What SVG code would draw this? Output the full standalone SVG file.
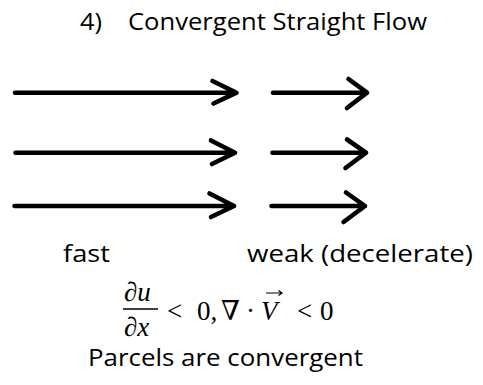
<svg xmlns="http://www.w3.org/2000/svg" width="483" height="385" viewBox="0 0 483 385">
<style>
.ln{fill:none;stroke:#000;stroke-width:4.6;stroke-linecap:round;stroke-linejoin:round}
.t{font-family:"Open Sans","Liberation Sans",sans-serif;font-size:24px;fill:#000}
.m{font-family:"Liberation Serif","DejaVu Serif",serif;font-size:27px;fill:#000}
.i{font-style:italic}
</style>
<rect width="483" height="385" fill="#fff"/>
<g id="title">
<text class="t" x="80" y="30" textLength="22" lengthAdjust="spacingAndGlyphs">4)</text>
<text class="t" x="128" y="30" textLength="299" lengthAdjust="spacingAndGlyphs">Convergent Straight Flow</text>
</g>
<g id="connectors">
<path class="ln" d="M15,92.7H236M212.5,81L236.5,92.7L213.5,103.5"/>
<path class="ln" d="M273,92.7H367M348.5,79L367,92.7L347,108"/>
<path class="ln" d="M15.5,152.7H235M211,140.5L235,152.7L212,164"/>
<path class="ln" d="M272.5,152.7H366M347,139.5L366,152.7L345.5,168"/>
<path class="ln" d="M14.5,206H234M209.5,193.5L234,206L211,217"/>
<path class="ln" d="M271.5,206H365M346,192.5L365,206L343.5,222"/>
</g>
<g id="label-fast"><text class="t" x="63" y="262" textLength="47" lengthAdjust="spacingAndGlyphs">fast</text></g>
<g id="label-weak"><text class="t" x="247" y="262" textLength="226" lengthAdjust="spacingAndGlyphs">weak (decelerate)</text></g>
<g id="formula">
<text class="m" x="124" y="301"><tspan>∂</tspan><tspan class="i">u</tspan></text>
<line x1="123" y1="309" x2="158" y2="309" stroke="#000" stroke-width="1.3"/>
<text class="m" x="124" y="336"><tspan>∂</tspan><tspan class="i">x</tspan></text>
<text class="m" x="167" y="320">&lt;</text>
<text class="m" x="197" y="320">0,</text>
<text class="m" x="221" y="320">∇</text>
<text class="m" x="246" y="320">·</text>
<text class="m i" x="261" y="320">V</text>
<path d="M266,293H282M278.5,290.5L282,293L278.5,295.5" fill="none" stroke="#000" stroke-width="1.2"/>
<text class="m" x="297" y="320">&lt;</text>
<text class="m" x="320" y="320">0</text>
</g>
<g id="label-parcels"><text class="t" x="88" y="366" textLength="275" lengthAdjust="spacingAndGlyphs">Parcels are convergent</text></g>
</svg>
